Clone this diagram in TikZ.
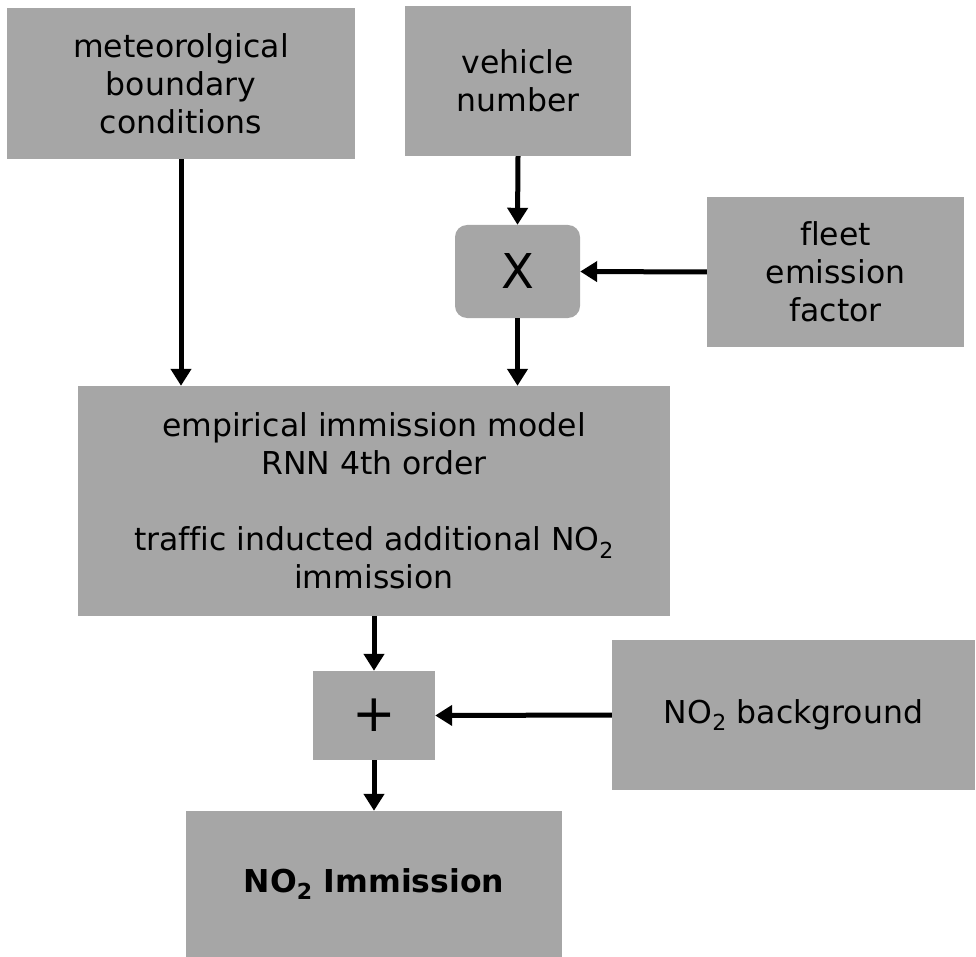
\documentclass[tikz,border=0pt]{standalone}
\usepackage{fontspec}
\setmainfont[Ligatures=CommonOff]{DejaVu Sans}
\usetikzlibrary{arrows.meta}
\definecolor{boxgray}{HTML}{A6A6A6}
\begin{document}
\begin{tikzpicture}[x=1pt,y=-1pt,
  blk/.style={fill=boxgray, draw=none, align=center, inner sep=0pt,
    font=\fontsize{31.5}{38}\selectfont},
  arr/.style={line width=5pt, -{Triangle[width=20pt,length=17pt]}}]
\useasboundingbox (0,0) rectangle (976,957);
\node[blk, minimum width=348pt, minimum height=151pt] (met) at (181,83.5) {meteorolgical\\boundary\\conditions};
\node[blk, minimum width=226pt, minimum height=150pt] (veh) at (518,81) {vehicle\\number};
\node[blk, minimum width=125pt, minimum height=93pt, rounded corners=12pt, font=\fontsize{48}{55}\selectfont] (mul) at (517.5,271.5) {X};
\node[blk, minimum width=257pt, minimum height=150pt] (fleet) at (835.5,272) {fleet\\emission\\factor};
\node[blk, minimum width=592pt, minimum height=230pt] (model) at (374,501) {empirical immission model\\RNN 4th order\\[38pt]traffic inducted additional NO\textsubscript{2}\\immission};
\node[blk, minimum width=122pt, minimum height=89pt, font=\fontsize{52}{58}\selectfont] (plus) at (374,715.5) {+};
\node[blk, minimum width=363pt, minimum height=150pt] (bg) at (793.5,715) {NO\textsubscript{2} background};
\node[blk, minimum width=376pt, minimum height=146pt, font=\fontsize{31.5}{38}\selectfont\bfseries] (imm) at (374,884) {NO\textsubscript{2} Immission};
\draw[arr] (met.south) -- (met.south |- model.north);
\draw[arr] (veh.south) -- (mul.north);
\draw[arr] (mul.south) -- (mul.south |- model.north);
\draw[arr] (fleet.west) -- (mul.east);
\draw[arr] (plus.north |- model.south) -- (plus.north);
\draw[arr] (bg.west) -- (plus.east);
\draw[arr] (plus.south) -- (imm.north);
\end{tikzpicture}
\end{document}
